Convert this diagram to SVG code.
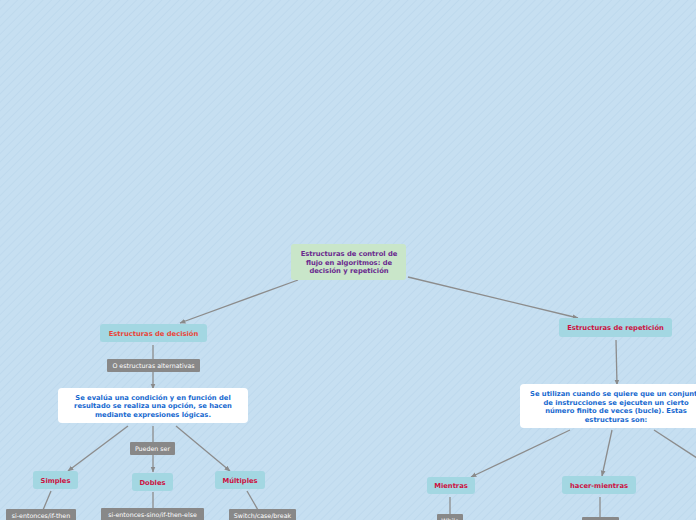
<svg xmlns="http://www.w3.org/2000/svg" width="696" height="520" viewBox="0 0 696 520">
<defs>
<pattern id="hatch" width="6" height="6" patternUnits="userSpaceOnUse" patternTransform="rotate(45)">
<rect width="6" height="6" fill="#c6dff1"/>
<line x1="0" y1="0" x2="0" y2="6" stroke="#bcd8ec" stroke-width="1.5"/>
</pattern>
<marker id="arr" viewBox="0 0 10 10" refX="9" refY="5" markerWidth="6" markerHeight="6" orient="auto" markerUnits="userSpaceOnUse">
<path d="M0,1 L10,5 L0,9 Z" fill="#8a8a8a"/>
</marker>
<style>
.ln{stroke:#8c8c8c;stroke-width:1.3;fill:none}
.root{fill:#c9e6c9}
.main{fill:#a3d7e2}
.desc{fill:#ffffff}
.lab{fill:#888888}
.t{font-family:"DejaVu Sans",Verdana,sans-serif;text-anchor:middle;font-weight:bold;font-size:6.75px}
.tr{fill:#6a2a8e}
.tdec{fill:#e8463a}
.tred{fill:#cc1241}
.tblue{fill:#1769cf}
.tl{font-family:"DejaVu Sans",Verdana,sans-serif;text-anchor:middle;font-size:6.3px;fill:#ffffff}
</style>
</defs>
<rect width="696" height="520" fill="url(#hatch)"/>
<g id="connectors">
<line class="ln" x1="298" y1="280" x2="180" y2="323" marker-end="url(#arr)"/>
<line class="ln" x1="408" y1="277" x2="578" y2="318" marker-end="url(#arr)"/>
<line class="ln" x1="153" y1="345" x2="153" y2="389" marker-end="url(#arr)"/>
<line class="ln" x1="128" y1="426" x2="68" y2="471" marker-end="url(#arr)"/>
<line class="ln" x1="153" y1="426" x2="153" y2="472" marker-end="url(#arr)"/>
<line class="ln" x1="176" y1="426" x2="230" y2="471" marker-end="url(#arr)"/>
<line class="ln" x1="51" y1="491" x2="43" y2="510"/>
<line class="ln" x1="153" y1="492" x2="153" y2="509"/>
<line class="ln" x1="247" y1="491" x2="258" y2="510"/>
<line class="ln" x1="616" y1="340" x2="617" y2="385" marker-end="url(#arr)"/>
<line class="ln" x1="570" y1="430" x2="471" y2="477" marker-end="url(#arr)"/>
<line class="ln" x1="612" y1="430" x2="602" y2="476" marker-end="url(#arr)"/>
<line class="ln" x1="654" y1="430" x2="700" y2="460"/>
<line class="ln" x1="450" y1="497" x2="450" y2="515"/>
<line class="ln" x1="600" y1="497" x2="600" y2="517"/>
</g>
<g id="root">
<rect class="root" x="291" y="244" width="115" height="36" rx="3"/>
<text class="t tr" x="349" y="256">Estructuras de control de</text>
<text class="t tr" x="349" y="264.5">flujo en algoritmos: de</text>
<text class="t tr" x="349" y="273">decisión y repetición</text>
</g>
<g id="decision">
<rect class="main" x="100" y="324" width="107" height="18" rx="3"/>
<text class="t tdec" x="153.5" y="335.5">Estructuras de decisión</text>
</g>
<g id="label-alternativas">
<rect class="lab" x="107" y="359" width="93" height="13" rx="1"/>
<text class="tl" x="153.5" y="368">O estructuras alternativas</text>
</g>
<g id="decision-desc">
<rect class="desc" x="58" y="388" width="190" height="35" rx="4"/>
<text class="t tblue" x="153" y="399.5">Se evalúa una condición y en función del</text>
<text class="t tblue" x="153" y="408">resultado se realiza una opción, se hacen</text>
<text class="t tblue" x="153" y="416.5">mediante expresiones lógicas.</text>
</g>
<g id="label-pueden">
<rect class="lab" x="130" y="442" width="45" height="13" rx="1"/>
<text class="tl" x="152.5" y="451">Pueden ser</text>
</g>
<g id="simples">
<rect class="main" x="33" y="471" width="45" height="18" rx="3"/>
<text class="t tred" x="55.5" y="482.5">Simples</text>
</g>
<g id="dobles">
<rect class="main" x="132" y="473" width="41" height="18" rx="3"/>
<text class="t tred" x="152.5" y="484.5">Dobles</text>
</g>
<g id="multiples">
<rect class="main" x="215" y="471" width="50" height="18" rx="3"/>
<text class="t tred" x="240" y="482.5">Múltiples</text>
</g>
<g id="label-ifthen">
<rect class="lab" x="6" y="509" width="70" height="13" rx="1"/>
<text class="tl" x="41" y="517.5">si-entonces/if-then</text>
</g>
<g id="label-ifthenelse">
<rect class="lab" x="101" y="508" width="103" height="13" rx="1"/>
<text class="tl" x="152.5" y="517">si-entonces-sino/if-then-else</text>
</g>
<g id="label-switch">
<rect class="lab" x="229" y="509" width="67" height="13" rx="1"/>
<text class="tl" x="262.5" y="518">Switch/case/break</text>
</g>
<g id="repeticion">
<rect class="main" x="559" y="318" width="113" height="19" rx="3"/>
<text class="t tred" x="615.5" y="330">Estructuras de repetición</text>
</g>
<g id="repeticion-desc">
<rect class="desc" x="520" y="384" width="190" height="44" rx="4"/>
<text class="t tblue" x="616" y="396">Se utilizan cuando se quiere que un conjunto</text>
<text class="t tblue" x="616" y="404.5">de instrucciones se ejecuten un cierto</text>
<text class="t tblue" x="616" y="413">número finito de veces (bucle). Estas</text>
<text class="t tblue" x="616" y="421.5">estructuras son:</text>
</g>
<g id="mientras">
<rect class="main" x="427" y="477" width="48" height="17" rx="3"/>
<text class="t tred" x="451" y="488">Mientras</text>
</g>
<g id="hacer-mientras">
<rect class="main" x="562" y="476" width="74" height="18" rx="3"/>
<text class="t tred" x="599" y="487.5">hacer-mientras</text>
</g>
<g id="label-while">
<rect class="lab" x="437" y="514" width="26" height="13" rx="1"/>
<text class="tl" x="450" y="523">While</text>
</g>
<g id="label-dowhile">
<rect class="lab" x="582" y="517" width="37" height="13" rx="1"/>
</g>
</svg>
